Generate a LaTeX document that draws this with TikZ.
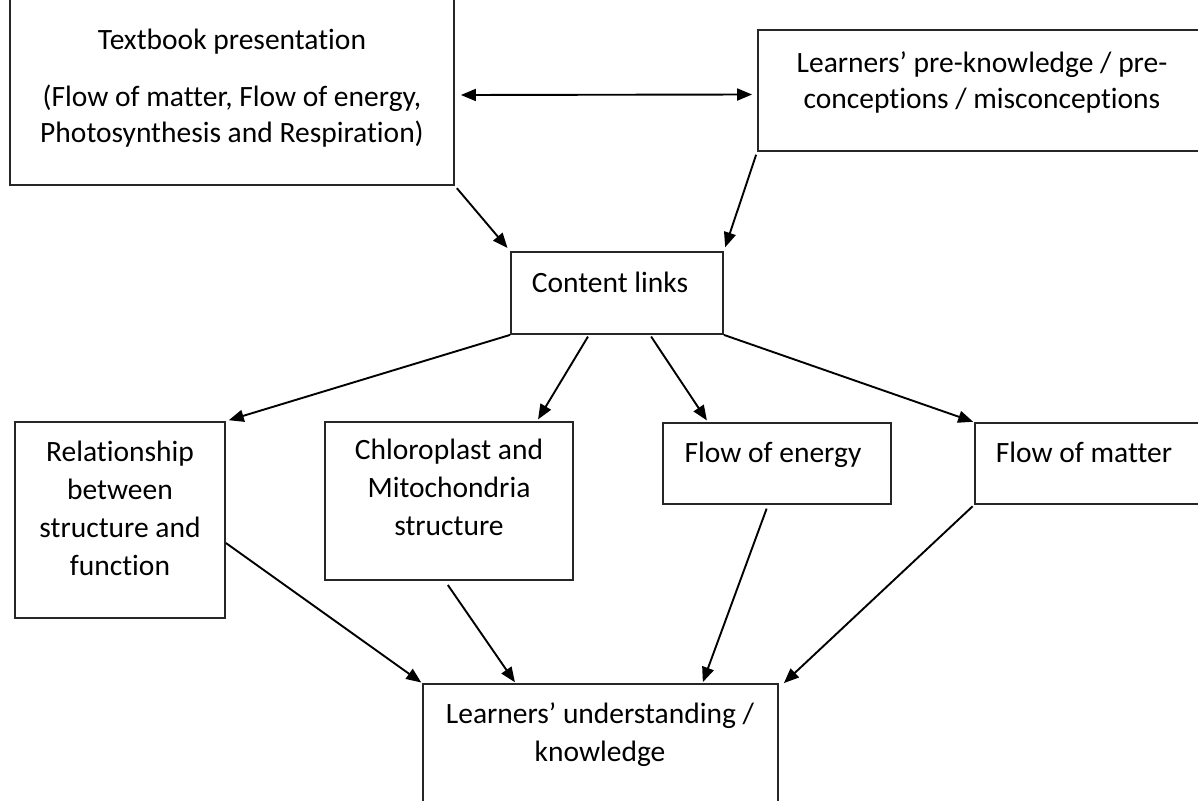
\documentclass[tikz,border=0pt]{standalone}
\usepackage{fontspec}
\setmainfont{Carlito}[Ligatures=NoCommon]
\usetikzlibrary{arrows.meta,positioning}
\tikzset{
  box/.style    = {draw=black!85, line width=1.8pt, inner sep=0pt},
  boxtext/.style = {anchor=north, align=center, inner sep=0pt,
                    font=\fontsize{29.5pt}{38pt}\selectfont},
  link/.style   = {-{Triangle[length=15pt,width=12pt]}, line width=1.9pt},
  twoway/.style = {{Triangle[length=15pt,width=12pt]}-{Triangle[length=15pt,width=12pt]}, line width=1.9pt},
}

\begin{document}
\begin{tikzpicture}[x=1pt,y=-1pt]
\useasboundingbox (0,0) rectangle (1198,800);
\clip (0,0) rectangle (1198,800);
% boxes
\node[box, minimum width=444pt, minimum height=188pt] (book) at (232,91) {};
\node[box, minimum width=448pt, minimum height=121pt] (pre) at (982,90.5) {};
\node[box, minimum width=212pt, minimum height=82pt] (cont) at (617,293) {};
\node[box, minimum width=210pt, minimum height=196pt] (rel) at (120,520) {};
\node[box, minimum width=248pt, minimum height=158pt] (chl) at (449,501) {};
\node[box, minimum width=228pt, minimum height=81pt] (ene) at (777,463.5) {};
\node[box, minimum width=231pt, minimum height=81pt] (mat) at (1090.5,463.5) {};
\node[box, minimum width=355pt, minimum height=128pt] (und) at (600.5,748) {};
% texts
\node[boxtext, font=\fontsize{29.5pt}{36pt}\selectfont] (book-t) at (232,29)
  {Textbook presentation\\[21pt](Flow of matter, Flow of energy,\\Photosynthesis and Respiration)};
\node[boxtext, font=\fontsize{29.5pt}{36pt}\selectfont] (pre-t) at (982,51)
  {Learners’ pre-knowledge / pre-\\conceptions / misconceptions};
\node[boxtext] (cont-t) at (610,272) {Content links};
\node[boxtext] (rel-t) at (120,441) {Relationship\\between\\structure and\\function};
\node[boxtext] (chl-t) at (449,439) {Chloroplast and\\Mitochondria\\structure};
\node[boxtext] (ene-t) at (773,442) {Flow of energy};
\node[boxtext] (mat-t) at (1084,442) {Flow of matter};
\node[boxtext] (und-t) at (600,702) {Learners’ understanding /\\knowledge};
% links
\draw[twoway] ([shift={(6,4)}]book.east) -- ([shift={(-5,4)}]pre.west);
\draw[link, shorten <=3pt, shorten >=4pt] (book.south east) -- (cont.north west);
\draw[link, shorten <=3pt, shorten >=4pt] (pre.south west) -- (cont.north east);
\draw[link, shorten >=3pt] (cont.south west) -- (rel.north east);
\draw[link, shorten <=2pt, shorten >=2pt] ([xshift=-28pt]cont.south) -- ([xshift=88pt]chl.north);
\draw[link, shorten <=2pt, shorten >=2pt] ([xshift=33pt]cont.south) -- ([xshift=-69pt]ene.north);
\draw[link, shorten >=1pt] (cont.south east) -- (mat.north west);
\draw[link, shorten >=1pt] ([yshift=-23pt]rel.east) -- (und.north west);
\draw[link, shorten <=5pt, shorten >=1pt] ([xshift=-4pt]chl.south) -- ([xshift=-85pt]und.north);
\draw[link, shorten <=4pt, shorten >=1pt] ([xshift=-9pt]ene.south) -- ([xshift=102pt]und.north);
\draw[link, shorten <=2pt] (mat.south west) -- ([xshift=5pt]und.north east);
\end{tikzpicture}
\end{document}
